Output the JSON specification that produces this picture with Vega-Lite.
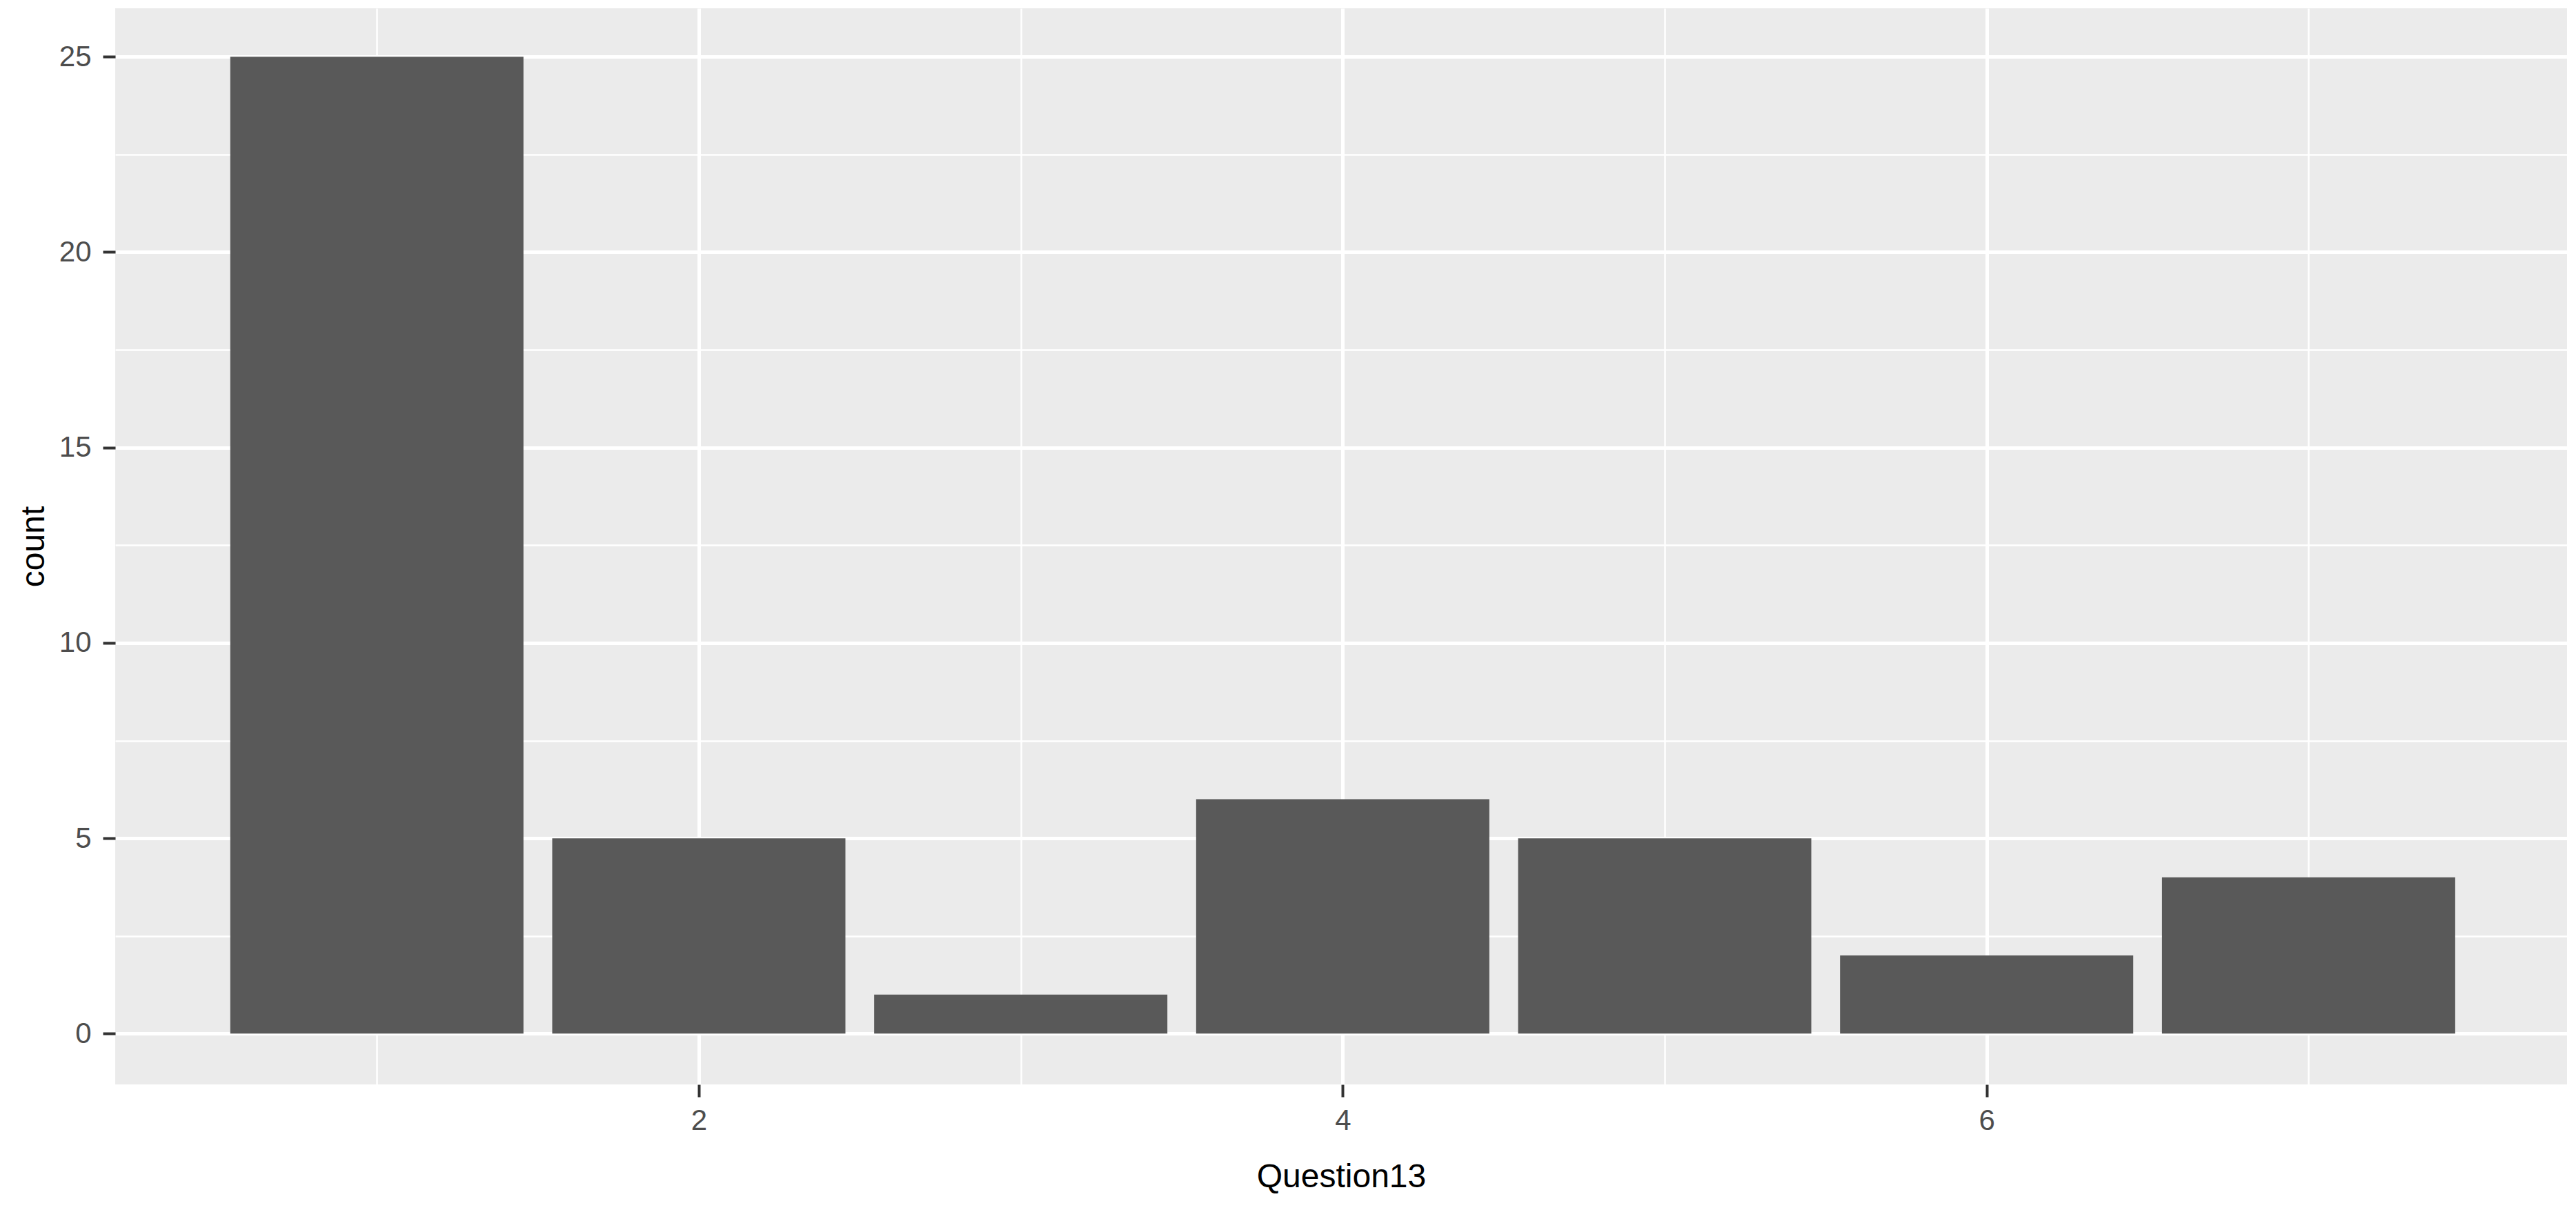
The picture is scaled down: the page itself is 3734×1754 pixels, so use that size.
{
  "$schema": "https://vega.github.io/schema/vega-lite/v6.json",
  "width": 3554,
  "height": 1560,
  "autosize": {"type": "none"},
  "padding": {"left": 167, "top": 12, "right": 13, "bottom": 182},
  "background": "#FFFFFF",
  "config": {
    "view": {"fill": "#EBEBEB", "stroke": null},
    "font": "Liberation Sans"
  },
  "data": {
    "values": [
      {"Question13": 1, "count": 25},
      {"Question13": 2, "count": 5},
      {"Question13": 3, "count": 1},
      {"Question13": 4, "count": 6},
      {"Question13": 5, "count": 5},
      {"Question13": 6, "count": 2},
      {"Question13": 7, "count": 4}
    ]
  },
  "mark": {"type": "bar", "orient": "vertical", "color": "#595959", "size": 425},
  "encoding": {
    "x": {
      "field": "Question13",
      "type": "quantitative",
      "scale": {"domain": [0.198, 7.792], "nice": false, "zero": false},
      "axis": {
        "title": "Question13",
        "values": [1, 2, 3, 4, 5, 6, 7],
        "labelExpr": "datum.value % 2 === 0 ? datum.label : ''",
        "domain": false,
        "grid": true,
        "gridColor": "#FFFFFF",
        "gridWidth": {"condition": {"test": "datum.value % 2 === 0", "value": 5}, "value": 2.5},
        "tickColor": "#333333",
        "tickWidth": 4,
        "tickSize": 18,
        "tickOpacity": {"condition": {"test": "datum.value % 2 === 0", "value": 1}, "value": 0},
        "labelFontSize": 42,
        "labelColor": "#4D4D4D",
        "labelPadding": 14,
        "labelFlush": false,
        "labelOverlap": false,
        "titleFontSize": 48,
        "titleFontWeight": "normal",
        "titleColor": "#000000",
        "titleBaseline": "alphabetic",
        "titleY": 148
      }
    },
    "y": {
      "field": "count",
      "type": "quantitative",
      "scale": {"domain": [-1.3, 26.24], "nice": false, "zero": false},
      "axis": {
        "title": "count",
        "values": [0, 2.5, 5, 7.5, 10, 12.5, 15, 17.5, 20, 22.5, 25],
        "labelExpr": "datum.value % 5 === 0 ? datum.label : ''",
        "domain": false,
        "grid": true,
        "gridColor": "#FFFFFF",
        "gridWidth": {"condition": {"test": "datum.value % 5 === 0", "value": 5}, "value": 2.5},
        "tickColor": "#333333",
        "tickWidth": 4,
        "tickSize": 18,
        "tickOpacity": {"condition": {"test": "datum.value % 5 === 0", "value": 1}, "value": 0},
        "labelFontSize": 42,
        "labelColor": "#4D4D4D",
        "labelPadding": 17,
        "labelFlush": false,
        "labelOverlap": false,
        "titleFontSize": 48,
        "titleFontWeight": "normal",
        "titleColor": "#000000",
        "titleBaseline": "alphabetic",
        "titleX": -104
      }
    }
  }
}
